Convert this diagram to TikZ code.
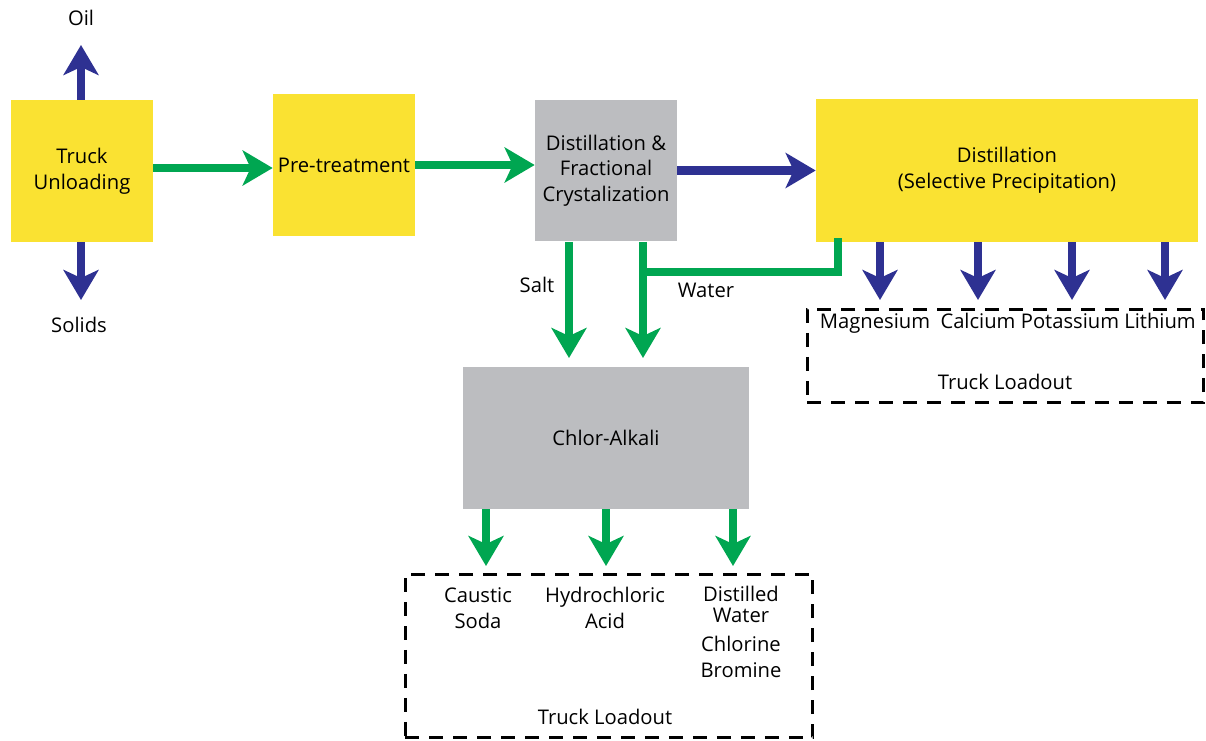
\documentclass[tikz,border=0pt]{standalone}
\usepackage{fontspec}
\setmainfont{Open Sans}
\usetikzlibrary{arrows.meta}
\definecolor{unityellow}{RGB}{250,226,50}
\definecolor{unitgray}{RGB}{188,189,192}
\definecolor{flowgreen}{RGB}{0,166,81}
\definecolor{flowblue}{RGB}{46,49,146}
\tikzset{
	unit/.style={inner sep=0pt, align=center, minimum width=2.84cm, minimum height=2.84cm},
	label/.style={inner sep=0pt, align=center},
	tag/.style={label, text height=8.4pt, text depth=2.6pt, yshift=-1.3pt},
	flow/.style={line width=0.17cm, -{Stealth[length=0.6cm, width=0.7cm, inset=0.16cm]}},
	pipe/.style={line width=0.17cm, line cap=rect},
	loadout/.style={draw, line width=0.06cm, dash pattern=on 0.28cm off 0.2cm, inner sep=0pt}
}
\begin{document}
\begin{tikzpicture}[x=0.02cm, y=-0.02cm, font=\fontsize{11.5}{14.6}\selectfont]
			\useasboundingbox (0,0) rectangle (1206,740);
			% process units
			\node[unit, fill=unityellow] (tu) at (82,171) {Truck\\Unloading};
			\node[unit, fill=unityellow] (pt) at (344,165) {Pre-treatment};
			\node[unit, fill=unitgray] (dfc) at (606,170.5) {Distillation \&\\Fractional\\Crystalization};
			\node[unit, fill=unityellow, minimum width=7.64cm, minimum height=2.86cm] (dsp) at (1007,170.5) {Distillation\\(Selective Precipitation)};
			\node[unit, fill=unitgray, minimum width=5.72cm] (ca) at (606,438) {Chlor-Alkali};
			% loadout areas
			\node[loadout, minimum width=7.94cm, minimum height=1.88cm] (load1) at (1005.5,356) {};
			\node[loadout, minimum width=8.16cm, minimum height=3.28cm] (load2) at (609,656) {};
			% stream labels
			\node[tag] (oil) at (81,18) {Oil};
			\node[tag] (solids) at (79,325) {Solids};
			\node[tag] (salt) at (537,285) {Salt};
			\node[tag] (water) at (706,290) {Water};
			\node[tag] (mg) at (875,321) {Magnesium};
			\node[tag] (cal) at (978,321) {Calcium};
			\node[tag] (pot) at (1070,321) {Potassium};
			\node[tag] (li) at (1160,321) {Lithium};
			\node[tag] (tl1) at (1005,382) {Truck Loadout};
			\node[label] (soda) at (478,608) {Caustic\\Soda};
			\node[label] (hcl) at (605,608) {Hydrochloric\\Acid};
			\node[label] (dw) at (741,632) {Distilled\\[-3pt]Water\\[2.4pt]Chlorine\\Bromine};
			\node[tag] (tl2) at (605,717) {Truck Loadout};
			% arrow tips
			\coordinate (oiltip) at (81,45);
			\coordinate (soltip) at (81,300);
			\coordinate (salttip) at (569,358);
			\coordinate (watertip) at (643,358);
			\coordinate (wjoin) at (643,272);
			\coordinate (sodatip) at (486,566);
			\coordinate (hcltip) at (606,566);
			\coordinate (dwtip) at (733,566);
			% main line
			\draw[flow, flowgreen] (tu.east |- 0,168) -- (pt.west |- 0,168);
			\draw[flow, flowgreen] (pt.east |- 0,165) -- (dfc.west |- 0,165);
			\draw[flow, flowblue] (dfc.east) -- (dsp.west |- dfc.east);
			\draw[flow, flowblue] (tu.north -| oiltip) -- (oiltip);
			\draw[flow, flowblue] (tu.south -| soltip) -- (soltip);
			% precipitation products
			\foreach \x in {880,978,1072,1165}
				\draw[flow, flowblue] (dsp.south -| \x,0) -- (\x,300);
			% salt and water to chlor-alkali
			\draw[flow, flowgreen] (dfc.south -| salttip) -- (salttip);
			\draw[flow, flowgreen] (dfc.south -| watertip) -- (watertip);
			\draw[pipe, flowgreen] (dsp.south -| 838,0) |- (wjoin);
			% chlor-alkali products
			\draw[flow, flowgreen] (ca.south -| sodatip) -- (sodatip);
			\draw[flow, flowgreen] (ca.south -| hcltip) -- (hcltip);
			\draw[flow, flowgreen] (ca.south -| dwtip) -- (dwtip);
\end{tikzpicture}
\end{document}
